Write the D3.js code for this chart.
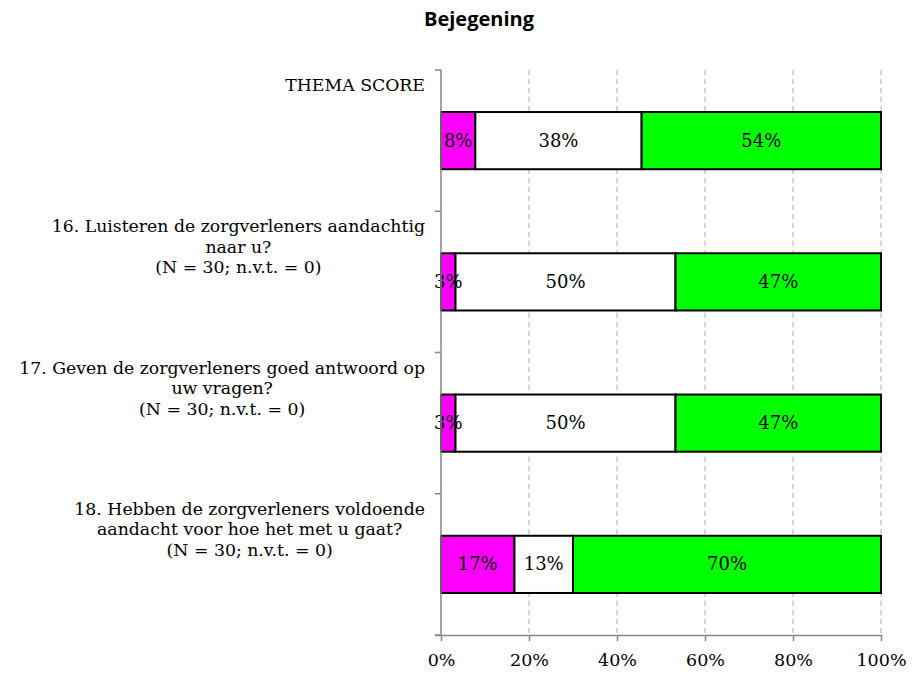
<!DOCTYPE html>
<html><head><meta charset="utf-8">
<script src="https://cdn.jsdelivr.net/npm/d3@7"></script>
<style>body{margin:0;background:#fff;} svg{display:block;}</style>
</head><body>
<script>
const categories = [
  "THEMA SCORE",
  "16. Luisteren de zorgverleners aandachtig\nnaar u?\n(N = 30; n.v.t. = 0)",
  "17. Geven de zorgverleners goed antwoord op\nuw vragen?\n(N = 30; n.v.t. = 0)",
  "18. Hebben de zorgverleners voldoende\naandacht voor hoe het met u gaat?\n(N = 30; n.v.t. = 0)"
];
const seriesNames = ["nee", "soms", "ja"];
const valNee  = [7.8, 3.3, 3.3, 16.7];
const valSoms = [37.8, 50.0, 50.0, 13.3];
const valJa   = [54.4, 46.7, 46.7, 70.0];
const colors = ["#FF00FF", "#FFFFFF", "#00FF00"];
const xTicks = [0, 20, 40, 60, 80, 100];
const title = "Bejegening";

const W = 913, H = 673;
const svg = d3.select("body").append("svg").attr("width", W).attr("height", H);
const serif = "'DejaVu Serif', 'Liberation Serif', serif";

const x = d3.scaleLinear().domain([0, 100]).range([441, 881]);
const y = d3.scaleBand().domain(categories).range([70, 635]).paddingInner(0).paddingOuter(0);
const barH = y.bandwidth() * 0.405;

svg.append("text").attr("x", 479).attr("y", 26).attr("text-anchor", "middle")
  .attr("font-family", "'Open Sans', 'Noto Sans', sans-serif").attr("font-weight", "bold")
  .attr("font-size", 20).text(title);

// gridlines
svg.append("g").selectAll("line").data(xTicks.slice(1)).join("line")
  .attr("x1", d => x(d)).attr("x2", d => x(d)).attr("y1", 70).attr("y2", 635)
  .attr("stroke", "#c0c0c0").attr("stroke-width", 1.3).attr("stroke-dasharray", "5,4");

// bars
const rows = categories.map((c, i) => {
  const vals = [valNee[i], valSoms[i], valJa[i]];
  let acc = 0;
  return vals.map((v, k) => { const o = {cat: c, k, v, x0: acc}; acc += v; return o; });
}).flat();

const cy = c => y(c) + y.bandwidth() / 2;
svg.append("g").selectAll("rect").data(rows).join("rect")
  .attr("x", d => x(d.x0)).attr("width", d => x(d.x0 + d.v) - x(d.x0))
  .attr("y", d => cy(d.cat) - barH / 2).attr("height", barH)
  .attr("fill", d => colors[d.k]).attr("stroke", "#000").attr("stroke-width", 2);

svg.append("g").selectAll("text").data(rows).join("text")
  .attr("x", d => x(d.x0 + d.v / 2)).attr("y", d => cy(d.cat) + 6)
  .attr("text-anchor", "middle").attr("font-family", serif).attr("font-size", 18)
  .attr("fill", "#000").text(d => Math.round(d.v) + "%");

// axes
const axisColor = "#868686";
const yAx = svg.append("g");
yAx.append("line").attr("x1", 441).attr("x2", 441).attr("y1", 70).attr("y2", 635)
  .attr("stroke", axisColor).attr("stroke-width", 1.5);
const yTickPos = categories.map(c => y(c)).concat([635]);
yAx.selectAll("line.t").data(yTickPos).join("line").attr("class", "t")
  .attr("x1", 435).attr("x2", 441).attr("y1", d => d).attr("y2", d => d)
  .attr("stroke", axisColor).attr("stroke-width", 1.5);

const xAx = svg.append("g").attr("transform", "translate(0,635)")
  .call(d3.axisBottom(x).tickValues(xTicks).tickFormat(d => d + "%").tickSize(6).tickSizeOuter(0));
xAx.select(".domain").attr("stroke", axisColor).attr("stroke-width", 1.5).attr("d", "M435,0.5H881");
xAx.selectAll(".tick line").attr("stroke", axisColor).attr("stroke-width", 1.5);
xAx.selectAll(".tick text").attr("font-family", serif).attr("font-size", 17.5)
  .attr("fill", "#000").attr("dy", null).attr("y", 31);

// category labels
const lab = svg.append("g");
categories.forEach(c => {
  const lines = c.split("\n");
  const t = lab.append("text").attr("font-family", serif).attr("font-size", 17.3)
    .attr("fill", "#000").attr("text-anchor", "middle");
  lines.forEach((ln, i) => {
    t.append("tspan").attr("x", 0).attr("y", y(c) + 21 + i * 20.5).text(ln);
  });
  let maxW = 0;
  t.selectAll("tspan").each(function () { maxW = Math.max(maxW, this.getComputedTextLength()); });
  t.selectAll("tspan").attr("x", 425 - maxW / 2);
});
</script>
</body></html>
